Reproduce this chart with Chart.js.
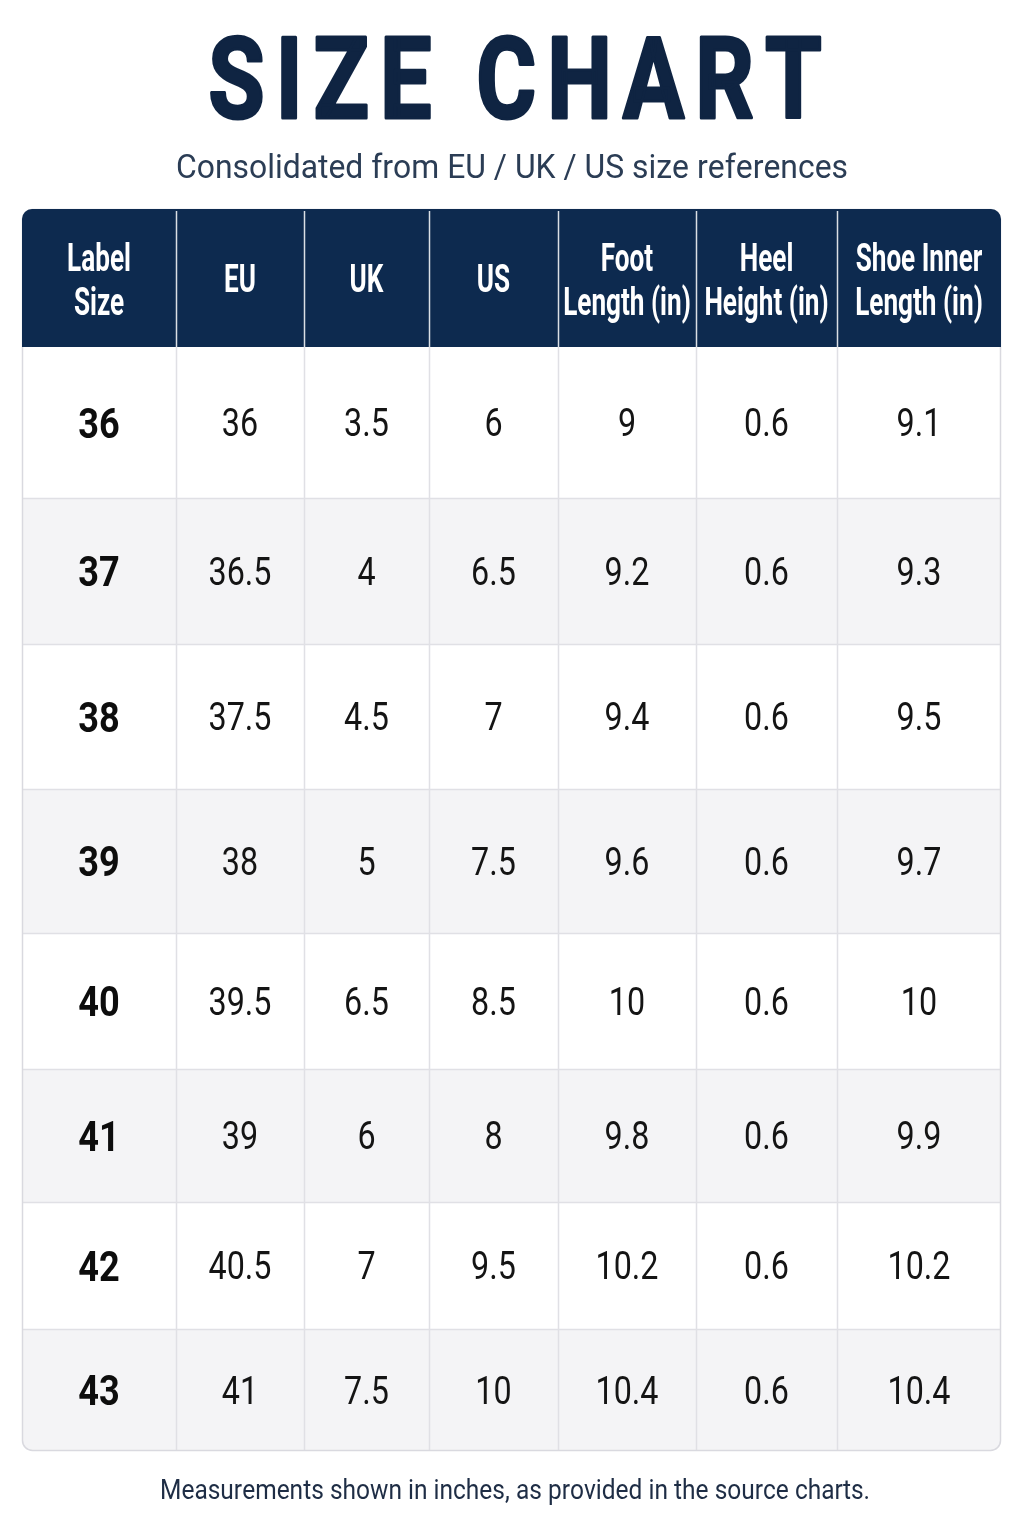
<!DOCTYPE html>
<html>
<head>
<meta charset="utf-8">
<script src="https://cdn.jsdelivr.net/npm/chart.js@4.4.1/dist/chart.umd.min.js"></script>
<style>
  html, body { margin: 0; padding: 0; background: #ffffff; }
  canvas { display: block; }
</style>
</head>
<body>
<canvas id="sizeChart" width="1024" height="1536"></canvas>
<script>
// column headers (one array per header line)
const headerLines = [
  ["Label", "Size"],
  ["EU"],
  ["UK"],
  ["US"],
  ["Foot", "Length (in)"],
  ["Heel", "Height (in)"],
  ["Shoe Inner", "Length (in)"]
];

// table values, one array per column
const labelSizes = [36, 37, 38, 39, 40, 41, 42, 43];
const euSizes = [36, 36.5, 37.5, 38, 39.5, 39, 40.5, 41];
const ukSizes = [3.5, 4, 4.5, 5, 6.5, 6, 7, 7.5];
const usSizes = [6, 6.5, 7, 7.5, 8.5, 8, 9.5, 10];
const footLength = [9, 9.2, 9.4, 9.6, 10, 9.8, 10.2, 10.4];
const heelHeight = [0.6, 0.6, 0.6, 0.6, 0.6, 0.6, 0.6, 0.6];
const innerLength = [9.1, 9.3, 9.5, 9.7, 10, 9.9, 10.2, 10.4];

const titleText = "SIZE CHART";
const subtitleText = "Consolidated from EU / UK / US size references";
const footnoteText = "Measurements shown in inches, as provided in the source charts.";

// layout of the grid (scale units, one unit = one pixel here)
const layout = {
  colWidths: [154, 128, 125, 129, 138, 141, 164],
  rowHeights: [151, 146, 145, 144, 136, 133, 127, 122],
  headerHeight: 138
};

const columns = [labelSizes, euSizes, ukSizes, usSizes, footLength, heelHeight, innerLength];

function edges(sizes) {
  var out = [0];
  sizes.forEach(function (s) { out.push(out[out.length - 1] + s); });
  return out;
}
const colEdges = edges(layout.colWidths);
const rowEdges = edges(layout.rowHeights);

const datasets = columns.map(function (values, c) {
  return {
    label: headerLines[c].join(" "),
    data: values.map(function (v, r) {
      return {
        x: (colEdges[c] + colEdges[c + 1]) / 2,
        y: (rowEdges[r] + rowEdges[r + 1]) / 2,
        v: String(v)
      };
    }),
    pointRadius: 0,
    pointHoverRadius: 0
  };
});

// draws text squeezed horizontally, baseline given
function putText(ctx, txt, x, baseline, font, color, sx) {
  ctx.save();
  ctx.font = font;
  ctx.fillStyle = color;
  ctx.textAlign = "center";
  ctx.textBaseline = "alphabetic";
  ctx.translate(x, baseline);
  ctx.scale(sx, 1);
  ctx.fillText(txt, 0, 0);
  ctx.restore();
}

// draws text fitted to a target width, with optional letter spacing and stroke
function fitText(ctx, txt, cx, baseline, font, color, width, spacing, stroke) {
  ctx.save();
  ctx.font = font;
  ctx.fillStyle = color;
  ctx.strokeStyle = color;
  ctx.lineJoin = "round";
  ctx.textBaseline = "alphabetic";
  ctx.textAlign = "left";
  var chars = txt.split("");
  var natural = 0;
  chars.forEach(function (ch) { natural += ctx.measureText(ch).width; });
  var gaps = spacing * (chars.length - 1);
  var sx = (width - gaps - (stroke || 0)) / natural;
  var x = cx - width / 2 + (stroke || 0) / 2;
  chars.forEach(function (ch) {
    ctx.save();
    ctx.translate(x, baseline);
    ctx.scale(sx, 1);
    ctx.fillText(ch, 0, 0);
    if (stroke) {
      ctx.lineWidth = stroke / sx;
      ctx.strokeText(ch, 0, 0);
    }
    ctx.restore();
    x += ctx.measureText(ch).width * sx + spacing;
  });
  ctx.restore();
}

function roundRectPath(ctx, x, y, w, h, r) {
  ctx.beginPath();
  ctx.moveTo(x + r[0], y);
  ctx.lineTo(x + w - r[1], y);
  ctx.arcTo(x + w, y, x + w, y + r[1], r[1]);
  ctx.lineTo(x + w, y + h - r[2]);
  ctx.arcTo(x + w, y + h, x + w - r[2], y + h, r[2]);
  ctx.lineTo(x + r[3], y + h);
  ctx.arcTo(x, y + h, x, y + h - r[3], r[3]);
  ctx.lineTo(x, y + r[0]);
  ctx.arcTo(x, y, x + r[0], y, r[0]);
  ctx.closePath();
}

const tablePlugin = {
  id: "sizeTable",
  beforeDatasetsDraw: function (chart) {
    var ctx = chart.ctx;
    var xs = chart.scales.x, ys = chart.scales.y;
    var left = xs.getPixelForValue(colEdges[0]);
    var right = xs.getPixelForValue(colEdges[colEdges.length - 1]);
    var top = ys.getPixelForValue(rowEdges[0]);
    var bottom = ys.getPixelForValue(rowEdges[rowEdges.length - 1]);
    var headTop = top - layout.headerHeight;

    ctx.save();
    // body background with rounded bottom corners
    roundRectPath(ctx, left, top, right - left, bottom - top, [0, 0, 10, 10]);
    ctx.fillStyle = "#ffffff";
    ctx.fill();
    ctx.save();
    ctx.clip();
    for (var r = 0; r < layout.rowHeights.length; r++) {
      if (r % 2 === 1) {
        var y0 = ys.getPixelForValue(rowEdges[r]);
        var y1 = ys.getPixelForValue(rowEdges[r + 1]);
        ctx.fillStyle = "#f4f4f6";
        ctx.fillRect(left, y0, right - left, y1 - y0);
      }
    }
    ctx.restore();

    // grid lines
    ctx.strokeStyle = "#e0e0e5";
    ctx.lineWidth = 1.5;
    for (var i = 1; i < rowEdges.length - 1; i++) {
      var yy = Math.round(ys.getPixelForValue(rowEdges[i])) + 0.5;
      ctx.beginPath();
      ctx.moveTo(left, yy);
      ctx.lineTo(right, yy);
      ctx.stroke();
    }
    for (var j = 1; j < colEdges.length - 1; j++) {
      var xx = Math.round(xs.getPixelForValue(colEdges[j])) + 0.5;
      ctx.beginPath();
      ctx.moveTo(xx, top);
      ctx.lineTo(xx, bottom);
      ctx.stroke();
    }

    // outer border
    roundRectPath(ctx, left + 0.5, headTop + 0.5, right - left - 1, bottom - headTop - 1, [10, 10, 10, 10]);
    ctx.strokeStyle = "#d9d9df";
    ctx.lineWidth = 1.5;
    ctx.stroke();

    // header band
    roundRectPath(ctx, left, headTop, right - left, layout.headerHeight, [10, 10, 0, 0]);
    ctx.fillStyle = "#0d2a4f";
    ctx.fill();
    ctx.strokeStyle = "rgba(255,255,255,0.85)";
    ctx.lineWidth = 1.5;
    for (var k = 1; k < colEdges.length - 1; k++) {
      var hx = Math.round(xs.getPixelForValue(colEdges[k])) + 0.5;
      ctx.beginPath();
      ctx.moveTo(hx, headTop + 2);
      ctx.lineTo(hx, top);
      ctx.stroke();
    }
    ctx.restore();
  },
  afterDatasetsDraw: function (chart) {
    var ctx = chart.ctx;
    var xs = chart.scales.x, ys = chart.scales.y;
    var top = ys.getPixelForValue(rowEdges[0]);
    var headTop = top - layout.headerHeight;
    var headMid = headTop + layout.headerHeight / 2;

    // header labels
    var headFont = "bold 39px Roboto";
    headerLines.forEach(function (lines, c) {
      var cx = xs.getPixelForValue((colEdges[c] + colEdges[c + 1]) / 2);
      if (lines.length === 1) {
        putText(ctx, lines[0], cx, headMid + 14, headFont, "#ffffff", 0.67);
      } else {
        putText(ctx, lines[0], cx, headMid - 7, headFont, "#ffffff", 0.67);
        putText(ctx, lines[1], cx, headMid + 37, headFont, "#ffffff", 0.67);
      }
    });

    // cell values
    chart.data.datasets.forEach(function (ds, c) {
      var meta = chart.getDatasetMeta(c);
      meta.data.forEach(function (el, r) {
        var txt = ds.data[r].v;
        if (c === 0) {
          putText(ctx, txt, el.x, el.y + 15, "bold 42px Roboto", "#0d0d0d", 0.86);
        } else {
          putText(ctx, txt, el.x, el.y + 13.5, "38px Roboto", "#141414", 0.85);
        }
      });
    });

    // title, subtitle, footnote
    fitText(ctx, titleText, 515, 118, "bold 114px Roboto", "#0f2442", 616, 11, 2.5);
    fitText(ctx, subtitleText, 512, 178, "34px Roboto", "#2b3d55", 672, 0, 0);
    var bottom = ys.getPixelForValue(rowEdges[rowEdges.length - 1]);
    fitText(ctx, footnoteText, 515, bottom + 48, "27px Roboto", "#1e2d45", 710, 0, 0);
  }
};

new Chart(document.getElementById("sizeChart"), {
  type: "scatter",
  data: { datasets: datasets },
  options: {
    responsive: false,
    animation: false,
    events: [],
    layout: { padding: { left: 22, right: 23, top: 347, bottom: 85 } },
    scales: {
      x: { type: "linear", display: false, min: 0, max: colEdges[colEdges.length - 1] },
      y: { type: "linear", display: false, min: 0, max: rowEdges[rowEdges.length - 1], reverse: true }
    },
    plugins: {
      legend: { display: false },
      tooltip: { enabled: false }
    }
  },
  plugins: [tablePlugin]
});
</script>
</body>
</html>
